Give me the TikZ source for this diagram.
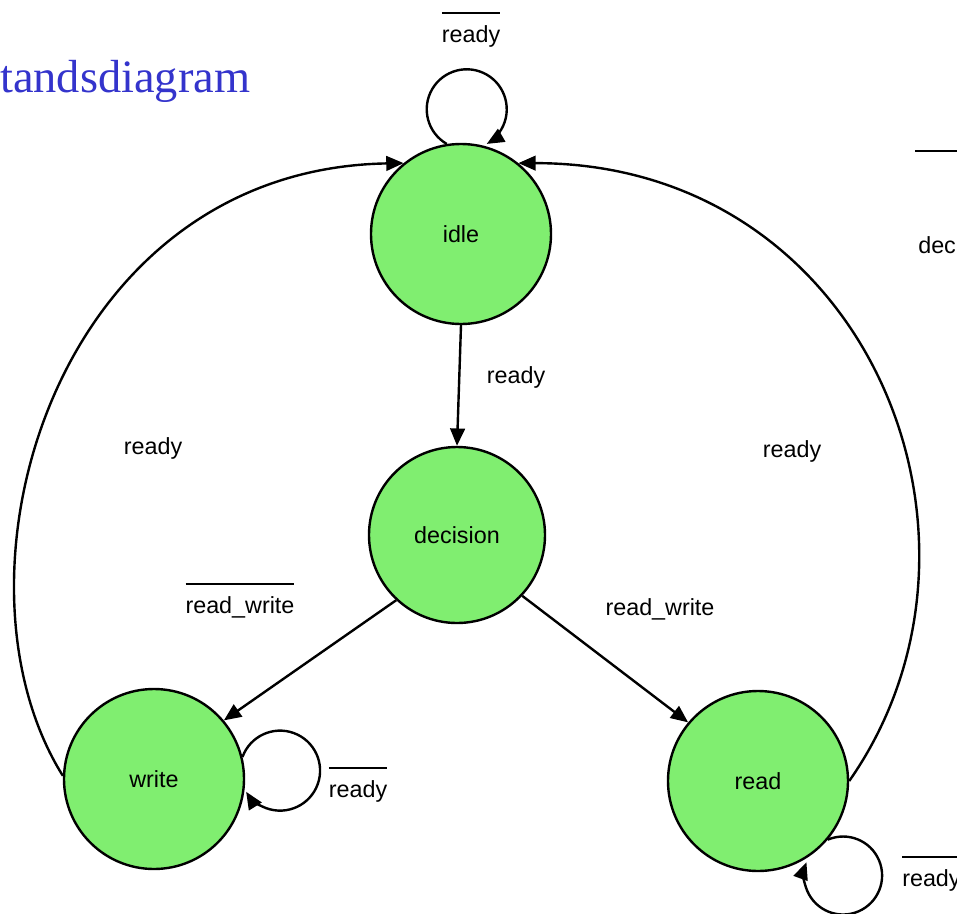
\documentclass[tikz,border=0pt]{standalone}
\usepackage{fontspec}
\setmainfont{Liberation Sans}
\newfontfamily\titlefont{Liberation Serif}
\usetikzlibrary{arrows.meta}
\definecolor{stategreen}{RGB}{128,238,112}
\definecolor{titleblue}{RGB}{52,52,204}
% negated signal name: a bar drawn over the text
\newcommand\negated[1]{\vbox{\hrule height 1.6pt\kern 8pt\hbox{#1}}}
\begin{document}
\begin{tikzpicture}[x=0.75pt,y=0.75pt,
  state/.style={circle,draw=black,line width=1.8pt,fill=stategreen,
    minimum size=135pt,inner sep=0pt,font=\fontsize{17.5}{20}\selectfont},
  lbl/.style={inner sep=0pt,anchor=base,font=\fontsize{17.5}{20}\selectfont},
  trans/.style={line width=1.8pt,-{Triangle[length=13pt,width=11pt]}},
  plain/.style={line width=1.6pt}]
\useasboundingbox (0,0) rectangle (957,-914);

% title
\node[anchor=base west,inner sep=0pt,text=titleblue,
  font=\titlefont\fontsize{34.8}{40}\selectfont] (title) at (0,-92) {tandsdiagram};

% states
\node[state] (idle) at (461,-234) {idle};
\node[state,minimum size=132pt] (decision) at (457,-535) {decision};
\node[state] (write) at (154,-779) {write};
\node[state] (read) at (758,-781) {read};

% transitions between states
\draw[trans] (idle.south) -- (decision.north);
\draw[trans] (decision.227) -- (write.40);
\draw[trans] (decision.-43) -- (read.140);
\draw[trans] (write.178) .. controls +(122:235) and +(181:350) .. (idle.129);
\draw[trans] (read.0) .. controls +(55:295) and +(0:350) .. (idle.51);

% self loops
\draw[trans] (idle.99) arc[start angle=240,end angle=-60,radius=40];
\draw[trans] (write.14) arc[start angle=160,end angle=-148,radius=40];
\draw[trans] (read.-40) arc[start angle=113,end angle=-200,radius=39];

% transition labels
\node[lbl] (lidleloop) at (471,-42) {\negated{ready}};
\node[lbl] (lidledec) at (516,-383) {ready};
\node[lbl] (lwriteidle) at (153,-454) {ready};
\node[lbl] (lreadidle) at (792,-457) {ready};
\node[lbl] (ldecwrite) at (240,-613) {\negated{read\_write}};
\node[lbl] (ldecread) at (660,-615) {read\_write};
\node[lbl] (lwriteloop) at (358,-797) {\negated{ready}};
\node[lbl,anchor=base west] (lreadloop) at (902,-886) {\negated{ready}};
\node[lbl,anchor=base west] (ldec) at (918,-253) {dec};
\coordinate (barstart) at (915,-151);
\coordinate (barend) at (957,-151);
\draw[plain] (barstart) -- (barend);
\end{tikzpicture}
\end{document}
